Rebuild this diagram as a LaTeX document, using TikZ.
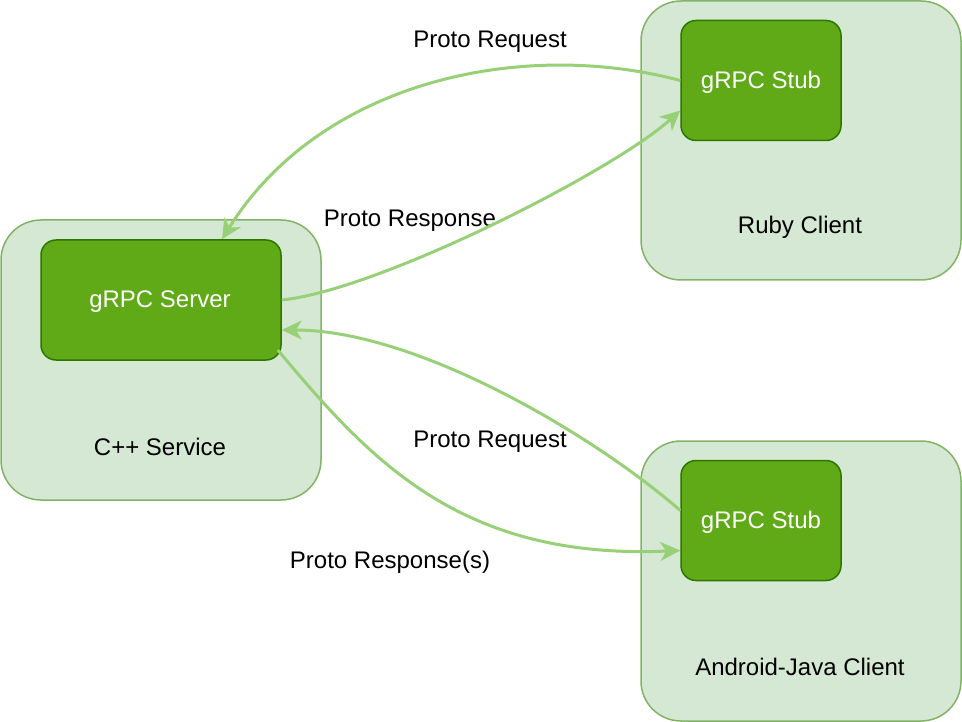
\documentclass[tikz,border=0pt]{standalone}
\usepackage{fontspec}
\setmainfont{Liberation Sans}
\usetikzlibrary{arrows.meta}
\definecolor{outerfill}{HTML}{D5E8D4}
\definecolor{outerline}{HTML}{82B366}
\definecolor{innerfill}{HTML}{60A917}
\definecolor{innerline}{HTML}{2D7600}
\definecolor{flow}{HTML}{97D077}
\begin{document}
\begin{tikzpicture}[x=1pt,y=-1pt,
	font=\fontsize{24}{28}\selectfont,
	outer/.style={draw=outerline,fill=outerfill,line width=1.5pt,rounded corners=40pt,
		minimum width=320pt,minimum height=280pt,inner sep=0pt},
	inner/.style={draw=innerline,fill=innerfill,line width=1.5pt,rounded corners=15pt,
		minimum height=120pt,inner sep=0pt,text=white},
	flowline/.style={draw=flow,line width=3pt,-{Stealth[length=20pt,width=19pt,inset=6pt]}}]
	\useasboundingbox (0,0) rectangle (962,722);

	\node[outer] (svc) at (161,360) {};
	\node[outer,minimum height=279pt] (ruby) at (801,140.5) {};
	\node[outer] (andr) at (801,581) {};

	\node[inner,minimum width=240pt] (srv) at (161,300) {};
	\node[inner,minimum width=160pt] (stubA) at (761,80.5) {};
	\node[inner,minimum width=160pt] (stubB) at (761,520.5) {};
	\node[text=white] (srvlbl) at (160,302) {gRPC Server};
	\node[text=white] (stubAlbl) at (761,82) {gRPC Stub};
	\node[text=white] (stubBlbl) at (761,522) {gRPC Stub};

	\node (svclbl) at (160,447) {C++ Service};
	\node (rubylbl) at (800,227) {Ruby Client};
	\node (andrlbl) at (800,667) {Android-Java Client};

	\node (req1) at (490,42) {Proto Request};
	\node (resp1) at (410,221) {Proto Response};
	\node (req2) at (490,442) {Proto Request};
	\node (resp2) at (390,562) {Proto Response(s)};

	\path[flowline] (stubA.west) .. controls (520,38) and (320,82) .. ([xshift=61pt]srv.north);
	\path[flowline] (srv.east) .. controls (380,290) and (615,170) .. ([yshift=-30pt]stubA.west);
	\path[flowline] ([yshift=10pt]stubB.west) .. controls (600,440) and (420,330) .. ([yshift=-30pt]srv.east);
	\path[flowline] ([xshift=-4pt,yshift=-50pt]srv.east) .. controls (370,460) and (460,560) .. ([yshift=-30pt]stubB.west);
\end{tikzpicture}
\end{document}
